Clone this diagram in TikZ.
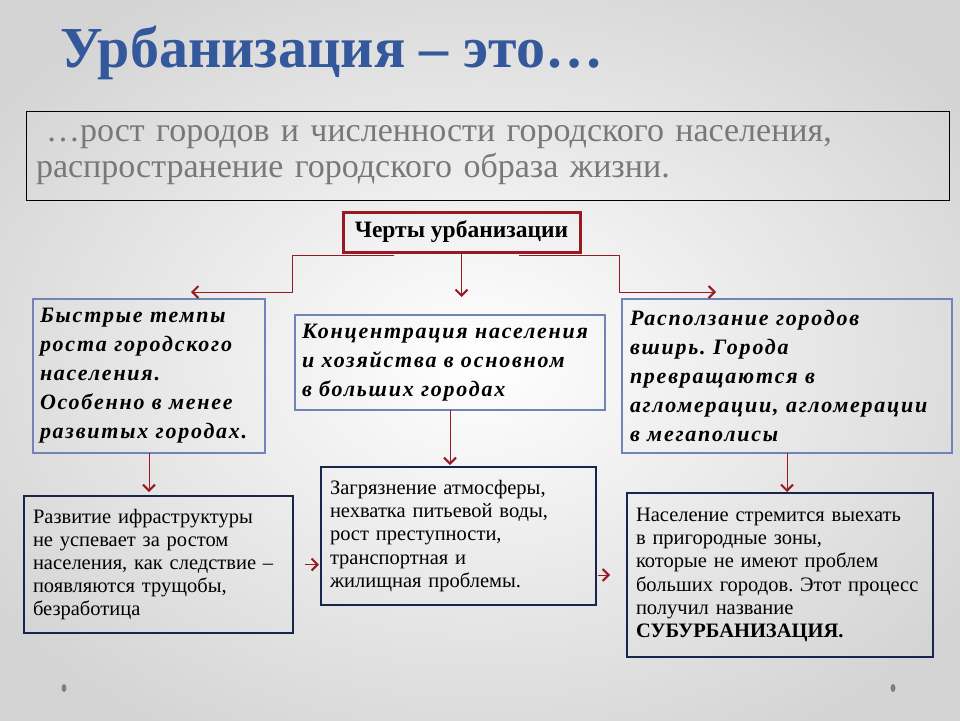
\documentclass[tikz,border=0pt]{standalone}
\usepackage{fontspec}
\setmainfont{Liberation Serif}
\usepackage{xcolor}
\usetikzlibrary{positioning,arrows.meta}
\frenchspacing

\definecolor{titleblue}{RGB}{52,88,156}
\definecolor{darkred}{RGB}{150,25,35}
\definecolor{steelframe}{RGB}{112,132,182}
\definecolor{navyframe}{RGB}{24,38,78}
\definecolor{textgray}{RGB}{120,120,120}

\begin{document}
\begin{tikzpicture}
[x=1pt, y=-1pt,
    every node/.style={inner sep=0pt, outer sep=0pt},
    featurebox/.style={draw=steelframe, line width=2pt, anchor=north west,
    align=left, inner xsep=7pt,
    font=\fontsize{22}{29}\selectfont\bfseries\itshape\addfontfeature{LetterSpace=8}},
    resultbox/.style={draw=navyframe, line width=2.4pt, anchor=north west,
    align=left, inner xsep=9pt,
    font=\fontsize{20.5}{23.2}\selectfont},
    arr/.style={draw=darkred, line width=1pt,
    -{Straight Barb[length=6pt,width=12pt,line width=2pt]}}
    ]

    % background
    \useasboundingbox (0,0) rectangle (960,720);
    \shade[inner color=white, outer color=black!17] (-120,-80) rectangle (1080,800);

    \node[anchor=base west, text=titleblue,
    font=\fontsize{58}{60}\selectfont\bfseries] (title) at (60,67) {Урбанизация – это…};

    \node[draw=black, line width=1pt, anchor=north west, align=left,
    minimum width=923pt, minimum height=89pt, text width=903pt,
    text=textgray, font=\fontsize{34}{36}\selectfont] (defn) at (26,111)
    {\hspace*{10pt}…рост городов и численности городского населения,\\
    распространение городского образа жизни.};

    \node[draw=darkred, line width=3pt, minimum width=237pt, minimum height=40pt,
    font=\fontsize{23.5}{25}\selectfont\bfseries] (traits) at (461.5,232) {Черты урбанизации};

    \node[featurebox, minimum width=232pt, minimum height=154pt, text width=218pt]
    (fast) at (33,299) {Быстрые темпы\\ роста городского\\ населения.\\
    Особенно в менее\\ развитых городах.};
    \node[featurebox, minimum width=310pt, minimum height=95pt, text width=296pt]
    (conc) at (295,315) {Концентрация населения\\ и хозяйства в основном\\
    в больших городах};
    \node[featurebox, minimum width=330pt, minimum height=154pt, text width=314pt,
    inner xsep=8pt] (sprawl) at (622,299) {Расползание городов\\ вширь. Города\\
    превращаются в\\ агломерации, агломерации\\ в мегаполисы};

    \node[resultbox, minimum width=269pt, minimum height=137pt, text width=251pt]
    (slums) at (24,496) {Развитие ифраструктуры\\ не успевает за ростом\\
    населения, как следствие –\\ появляются трущобы,\\ безработица};
    \node[resultbox, minimum width=275pt, minimum height=138pt, text width=257pt]
    (probs) at (321,467) {Загрязнение атмосферы,\\ нехватка питьевой воды,\\
    рост преступности,\\ транспортная и\\ жилищная проблемы.};
    \node[resultbox, minimum width=306pt, minimum height=164pt, text width=288pt]
    (suburb) at (627,493) {Население стремится выехать\\ в пригородные зоны,\\
    которые не имеют проблем\\ больших городов. Этот процесс\\ получил название\\
    \textbf{СУБУРБАНИЗАЦИЯ.}};

    \coordinate (lefttip) at (191,292);
    \coordinate (righttip) at (716,292);

    % connectors
    \draw[arr] ([xshift=51pt,yshift=-3pt]traits.south west) -| (lefttip -| 292,0) -- (lefttip);
    \draw[arr] ([xshift=-61pt,yshift=-3pt]traits.south east) -| (righttip -| 619,0) -- (righttip);
    \draw[arr] (traits.south) -- ++(0,45);
    \draw[arr, shorten >=4pt] (fast.south) -- (fast.south |- slums.north);
    \draw[arr, shorten >=2pt] (conc.south) -- (conc.south |- probs.north);
    \draw[arr, shorten >=1pt] (sprawl.south) -- (sprawl.south |- suburb.north);
    \draw[arr, shorten <=12pt, shorten >=2pt] (slums.east) -- (slums.east -| probs.west);
    \draw[arr, shorten <=2pt, shorten >=17pt] (suburb.west -| probs.east) -- (suburb.west);

    % corner dots
    \fill[black!50] (64,688) ellipse (2.5pt and 4pt);
    \fill[black!50] (893,688) ellipse (2.5pt and 4pt);
\end{tikzpicture}
\end{document}
